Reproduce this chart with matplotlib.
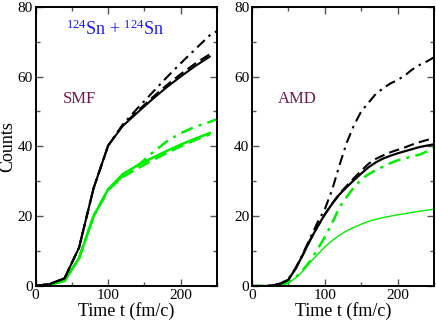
import matplotlib
matplotlib.use("Agg")
import matplotlib.pyplot as plt
from matplotlib.ticker import MultipleLocator

plt.rcParams['font.family'] = ['Liberation Serif', 'DejaVu Serif']
plt.rcParams['mathtext.fontset'] = 'custom'
plt.rcParams['mathtext.rm'] = 'Liberation Serif'
plt.rcParams['mathtext.it'] = 'Liberation Serif:italic'

# ---- SMF panel data (time in fm/c) ----
t_smf = [0, 20, 40, 60, 80, 100, 120, 140, 160, 180, 200, 220, 240]
t_smf_dd = [0, 20, 40, 60, 80, 100, 120, 140, 160, 180, 200, 220, 240, 250]
smf_black_solid = [0, 0.6, 2.2, 11.0, 28.0, 40.2, 45.8, 49.6, 53.3, 56.8, 60.0, 63.0, 65.7]
smf_black_dash = [0, 0.6, 2.2, 11.0, 28.0, 40.2, 46.0, 50.0, 53.8, 57.4, 60.7, 63.7, 66.4]
smf_black_dd = [0, 0.6, 2.2, 11.0, 28.0, 40.2, 46.2, 50.8, 55.2, 59.6, 63.8, 67.8, 71.8, 73.0]
smf_green_solid = [0, 0.4, 1.5, 8.0, 20.0, 27.7, 32.0, 34.5, 36.6, 38.6, 40.5, 42.2, 43.8]
smf_green_dash = [0, 0.4, 1.5, 8.0, 20.0, 27.5, 31.2, 33.6, 35.9, 38.0, 40.0, 41.8, 43.4]
smf_green_dd = [0, 0.4, 1.5, 8.0, 20.0, 27.5, 31.5, 34.3, 38.0, 41.3, 43.8, 45.6, 47.0, 47.8]

# ---- AMD panel data ----
t_amd = [0, 10, 20, 30, 40, 50, 60, 70, 80, 90, 100, 110, 120, 130, 140,
         150, 160, 170, 180, 190, 200, 210, 220, 230, 240, 250]
amd_black_solid = [0, 0, 0, 0.2, 0.7, 1.8, 5.0, 9.0, 13.2, 17.0, 20.5, 23.5, 26.2, 28.3,
                   30.3, 32.2, 34.0, 35.4, 36.5, 37.3, 38.0, 38.6, 39.2, 39.8, 40.2, 40.6]
amd_black_dash = [0, 0, 0, 0.2, 0.7, 1.8, 5.0, 9.0, 13.2, 17.0, 20.5, 23.6, 26.4, 28.7,
                  30.9, 33.0, 35.0, 36.4, 37.4, 38.3, 39.0, 39.7, 40.5, 41.2, 41.8, 42.4]
amd_black_dd = [0, 0, 0, 0.2, 0.8, 2.0, 5.2, 9.3, 13.8, 18.2, 22.0, 27.5, 34.5, 41.0,
                46.0, 50.0, 52.5, 55.0, 56.6, 58.0, 59.0, 60.3, 62.0, 63.3, 64.3, 65.5]
amd_green_solid = [0, 0, 0, 0, 0.2, 1.0, 2.3, 4.3, 6.8, 9.0, 11.2, 13.0, 14.5, 15.8,
                   16.8, 17.7, 18.5, 19.1, 19.6, 20.0, 20.4, 20.7, 21.1, 21.4, 21.7, 22.0]
amd_green_dd = [0, 0, 0, 0, 0.2, 1.0, 2.5, 4.6, 7.2, 10.5, 14.0, 18.0, 22.5, 25.5,
                28.3, 30.5, 32.0, 33.2, 34.2, 35.2, 36.0, 36.5, 37.2, 37.6, 38.5, 39.5]

GREEN = '#00ee00'
LABEL_COLOR = '#701850'
DASH = (0, (5, 2.5))
DASHDOT = (0, (5, 2.5, 1.2, 2.5))

fig = plt.figure(figsize=(4.36, 3.2), dpi=100)
ax1 = fig.add_axes([35.5/436, 1-286/320, 181.5/436, 279.3/320])
ax2 = fig.add_axes([252/436, 1-286/320, 182/436, 279.3/320])

ax1.plot(t_smf, smf_green_solid, color=GREEN, lw=1.8)
ax1.plot(t_smf, smf_green_dash, color=GREEN, lw=1.8, ls=DASH)
ax1.plot(t_smf_dd, smf_green_dd, color=GREEN, lw=1.8, ls=DASHDOT)
ax1.plot(t_smf, smf_black_solid, color='black', lw=1.5)
ax1.plot(t_smf, smf_black_dash, color='black', lw=1.5, ls=DASH)
ax1.plot(t_smf_dd, smf_black_dd, color='black', lw=1.5, ls=DASHDOT)

ax2.plot(t_amd, amd_green_solid, color=GREEN, lw=1.0)
ax2.plot(t_amd, amd_green_dd, color=GREEN, lw=1.8, ls=DASHDOT)
ax2.plot(t_amd, amd_black_solid, color='black', lw=1.6)
ax2.plot(t_amd, amd_black_dash, color='black', lw=1.5, ls=DASH)
ax2.plot(t_amd, amd_black_dd, color='black', lw=1.5, ls=DASHDOT)

for ax in (ax1, ax2):
    ax.set_xlim(0, 250)
    ax.set_ylim(0, 80)
    ax.xaxis.set_major_locator(MultipleLocator(100))
    ax.xaxis.set_minor_locator(MultipleLocator(50))
    ax.yaxis.set_major_locator(MultipleLocator(20))
    ax.yaxis.set_minor_locator(MultipleLocator(10))
    ax.tick_params(which='both', direction='in', top=True, right=True,
                   labelsize=11, pad=2, color='#555555')
    ax.tick_params(which='major', length=5, width=1)
    ax.tick_params(which='minor', length=3, width=1)
    for s in ax.spines.values():
        s.set_linewidth(1.4)
    ax.set_xlabel('Time t (fm/c)', fontsize=13, labelpad=0)

ax1.set_ylabel('Counts', fontsize=13, labelpad=1)

ax1.text(110, 72, r'$^{\mathrm{124}}$Sn + $^{\mathrm{124}}$Sn', color='#1a1aff',
         fontsize=13, ha='center', va='baseline')
ax1.text(61, 52.5, 'SMF', color=LABEL_COLOR, fontsize=12, ha='center', va='baseline')
ax2.text(62, 52.5, 'AMD', color=LABEL_COLOR, fontsize=12, ha='center', va='baseline')

fig.savefig('out.png', dpi=100)
